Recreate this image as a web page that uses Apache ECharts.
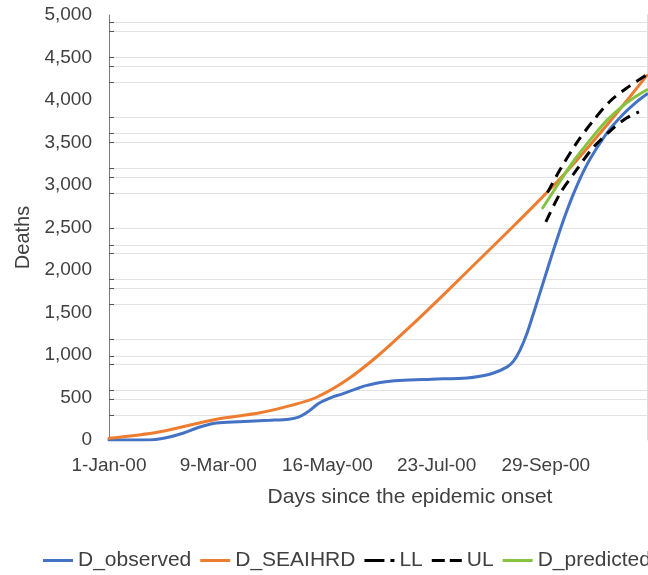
<!DOCTYPE html>
<html>
<head>
<meta charset="utf-8">
<title>Deaths since the epidemic onset</title>
<script src="https://cdn.jsdelivr.net/npm/echarts@6/dist/echarts.min.js"></script>
<style>
  html, body { margin: 0; padding: 0; background: #ffffff; overflow: hidden; }
  #chart { width: 700px; height: 575px; }
</style>
</head>
<body>
<div id="chart"></div>
<script>
// ---- data: days counted from 1-Jan-2000, cumulative deaths ----
const observedDays   = [0, 25, 34, 46, 56, 67, 81, 100, 112, 118, 123, 131, 139, 145, 150, 156, 160, 170, 181, 201, 223, 231, 239, 248, 252, 256, 260, 264, 268, 272, 276, 280, 284, 288, 292, 296, 300, 306, 312, 320, 328, 335];
const observedDeaths = [0, 0, 20, 80, 150, 200, 215, 232, 245, 270, 320, 435, 505, 540, 575, 615, 640, 680, 700, 715, 730, 750, 785, 860, 930, 1060, 1240, 1470, 1710, 1950, 2190, 2420, 2640, 2840, 3020, 3180, 3320, 3500, 3660, 3830, 3970, 4070];

const seaihrdDays   = [0, 31, 67, 94, 114, 129, 148, 168, 189, 210, 231, 251, 270, 285, 299, 312, 324, 335];
const seaihrdDeaths = [20, 95, 245, 320, 410, 500, 705, 1000, 1360, 1740, 2130, 2500, 2860, 3160, 3460, 3750, 4030, 4290];

const lowerDays   = [272, 281, 291, 301, 312, 322, 330];
const lowerDeaths = [2565, 2905, 3175, 3430, 3635, 3785, 3860];

const upperDays   = [273, 281, 291, 301, 312, 322, 335];
const upperDeaths = [2910, 3185, 3490, 3745, 3985, 4135, 4300];

const predictedDays   = [270, 280, 290, 300, 310, 320, 328, 335];
const predictedDeaths = [2730, 3020, 3300, 3540, 3760, 3930, 4040, 4120];

const seriesNames = ['D_observed', 'D_SEAIHRD', 'LL', 'UL', 'D_predicted'];
const yTickLabels = { min: 0, max: 5000, step: 500 };
const xTickLabels = { min: 0, max: 335, step: 68 };   // 1-Jan, 9-Mar, 16-May, 23-Jul, 29-Sep
const xTitle = 'Days since the epidemic onset';
const yTitle = 'Deaths';

// ---- layout ----
const CHART_W = 700, CHART_H = 575;
const PLOT_LEFT = 109, PLOT_RIGHT = 647, PLOT_TOP = 15, PLOT_BOTTOM = 440;
const FONT = "'Liberation Sans', Arial, sans-serif";
const TEXT = '#404040';
const MONTHS = ['Jan', 'Feb', 'Mar', 'Apr', 'May', 'Jun', 'Jul', 'Aug', 'Sep', 'Oct', 'Nov', 'Dec'];

function dayLabel(day) {
  const d = new Date(Date.UTC(2000, 0, 1) + day * 86400000);
  return d.getUTCDate() + '-' + MONTHS[d.getUTCMonth()] + '-' + String(d.getUTCFullYear()).slice(2);
}
const pairs = (xs, ys) => xs.map((x, i) => [x, ys[i]]);
const yToPx = v => PLOT_BOTTOM - (v - yTickLabels.min) / (yTickLabels.max - yTickLabels.min) * (PLOT_BOTTOM - PLOT_TOP);

const grid = [{ left: PLOT_LEFT, right: CHART_W - PLOT_RIGHT, top: PLOT_TOP, bottom: CHART_H - PLOT_BOTTOM }];

const xAxis = [{
  gridIndex: 0, type: 'value',
  min: xTickLabels.min, max: xTickLabels.max, interval: xTickLabels.step,
  axisLine: { show: false }, axisTick: { show: false }, splitLine: { show: false },
  axisLabel: {
    showMaxLabel: false, margin: 16, fontSize: 19, fontFamily: FONT, color: TEXT,
    formatter: v => (v % xTickLabels.step === 0 ? dayLabel(v) : '')
  },
  name: xTitle, nameLocation: 'middle', nameGap: 47,
  nameTextStyle: { fontSize: 21, fontFamily: FONT, color: TEXT, padding: [0, 0, 0, 64] }
}];

const yAxis = [{
  gridIndex: 0, type: 'value',
  min: yTickLabels.min, max: yTickLabels.max, interval: yTickLabels.step,
  axisLine: { show: true, lineStyle: { color: '#7a7a7a', width: 1 } },
  axisTick: { show: false }, splitLine: { show: false },
  axisLabel: {
    margin: 17, fontSize: 19, fontFamily: FONT, color: TEXT,
    formatter: v => v.toLocaleString('en-US')
  },
  name: yTitle, nameLocation: 'middle', nameGap: 76,
  nameTextStyle: { fontSize: 20, fontFamily: FONT, color: TEXT, padding: [0, 20, 0, 0] }
}, {
  // thin frame line on the right side of the plot
  gridIndex: 0, type: 'value', position: 'right', min: 0, max: 1,
  axisLine: { show: true, lineStyle: { color: '#dcdcdc', width: 1 } },
  axisTick: { show: false }, axisLabel: { show: false }, splitLine: { show: false }
}];

// background rule lines: repeating groups, each group drawn by its own
// hidden axis so the ticks and rules share one spacing
const ruleStep = 1306;
const ruleOffsets = [290, 482, 584, 886, 991, 1185];
ruleOffsets.forEach((o, i) => {
  const n = Math.floor((yTickLabels.max - o) / ruleStep);
  const bottomPx = yToPx(o);
  const topPx = yToPx(o + n * ruleStep);
  grid.push({ left: PLOT_LEFT, right: CHART_W - PLOT_RIGHT, top: topPx, bottom: CHART_H - bottomPx });
  xAxis.push({ gridIndex: i + 1, type: 'value', min: 0, max: 1, show: false });
  yAxis.push({
    gridIndex: i + 1, type: 'value', min: 0, max: n * ruleStep, interval: ruleStep,
    axisLine: { show: false }, axisLabel: { show: false },
    axisTick: { show: true, inside: true, length: 5, lineStyle: { color: '#555555', width: 1 } },
    splitLine: { show: true, lineStyle: { color: '#e3e3e3', width: 1 } }
  });
});

const solidIcon = 'path://M0,0H30V3H0Z';
const llIcon = 'path://M0,0H20V3H0Z M26,0H30V3H26Z';
const ulIcon = 'path://M0,0H13V3H0Z M18,0H30V3H18Z';

function lineSeries(name, xs, ys, color, dashed) {
  return {
    name, type: 'line', xAxisIndex: 0, yAxisIndex: 0,
    data: pairs(xs, ys),
    smooth: 0.3, symbol: 'none', clip: true,
    lineStyle: { color, width: 3, type: dashed ? [11, 7] : 'solid', cap: dashed ? 'butt' : 'round' },
    itemStyle: { color }
  };
}

const option = {
  animation: false,
  backgroundColor: '#ffffff',
  textStyle: { fontFamily: FONT },
  grid, xAxis, yAxis,
  legend: {
    left: 38, top: 545,
    itemWidth: 30, itemHeight: 14, itemGap: 9,
    itemStyle: { borderWidth: 0 },
    textStyle: { fontSize: 21, fontFamily: FONT, color: TEXT },
    data: [
      { name: seriesNames[0], icon: solidIcon },
      { name: seriesNames[1], icon: solidIcon },
      { name: seriesNames[2], icon: llIcon },
      { name: seriesNames[3], icon: ulIcon },
      { name: seriesNames[4], icon: solidIcon }
    ]
  },
  series: [
    lineSeries(seriesNames[0], observedDays, observedDeaths, '#4472C4', false),
    lineSeries(seriesNames[1], seaihrdDays, seaihrdDeaths, '#ED7D31', false),
    lineSeries(seriesNames[2], lowerDays, lowerDeaths, '#000000', true),
    lineSeries(seriesNames[3], upperDays, upperDeaths, '#000000', true),
    lineSeries(seriesNames[4], predictedDays, predictedDeaths, '#86C440', false)
  ]
};

const chart = echarts.init(document.getElementById('chart'), null, { renderer: 'canvas' });
chart.setOption(option);
</script>
</body>
</html>
